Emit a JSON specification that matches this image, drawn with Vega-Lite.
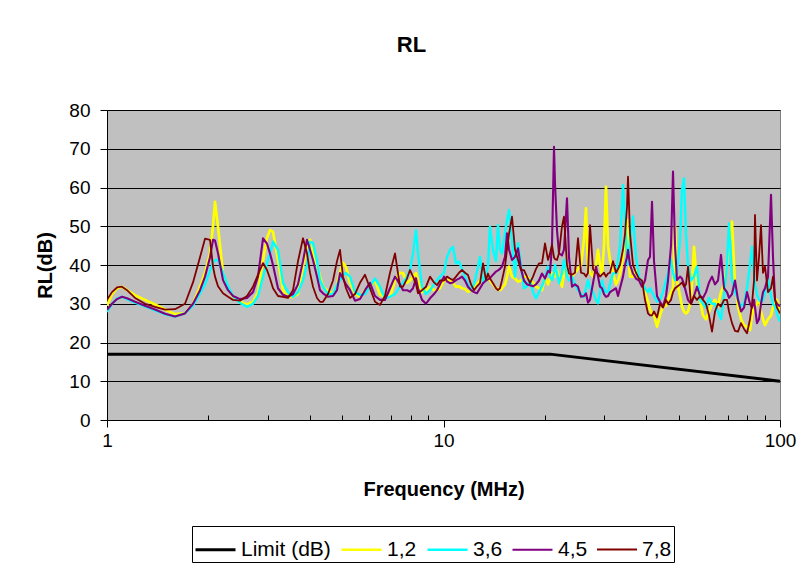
{
"$schema":"https://vega.github.io/schema/vega-lite/v6.json",
"width":673,"height":310,
"autosize":{"type":"none"},
"padding":{"left":107,"top":110,"right":29,"bottom":149},
"background":"white",
"title":{"text":"RL","font":"Liberation Sans","fontSize":22,"fontWeight":"bold","color":"black","anchor":"middle","frame":"group","offset":44,"dx":-32},
"data":{"values":[
{"f":1,"Limit (dB)":17,"1,2":29.5,"3,6":27.9,"4,5":28.4,"7,8":31},
{"f":1.0348,"1,2":32.5,"3,6":30,"4,5":30,"7,8":33},
{"f":1.0708,"1,2":34,"3,6":31.3,"4,5":31.2,"7,8":34.2},
{"f":1.1081,"1,2":34.4,"3,6":31.8,"4,5":31.8,"7,8":34.4},
{"f":1.1467,"1,2":33.5,"3,6":31.2,"4,5":31.4,"7,8":33.5},
{"f":1.2112,"1,2":32.2,"3,6":30.3,"4,5":30.5,"7,8":31.5},
{"f":1.297,"1,2":31,"3,6":29.3,"4,5":29.5,"7,8":30},
{"f":1.3888,"1,2":29.8,"3,6":28.3,"4,5":28.5,"7,8":29.2},
{"f":1.4872,"1,2":28.5,"3,6":27.3,"4,5":27.4,"7,8":28.5},
{"f":1.5925,"1,2":27.3,"3,6":26.7,"4,5":26.7,"7,8":28.6},
{"f":1.7054,"1,2":27.5,"3,6":27.5,"4,5":27.5,"7,8":30},
{"f":1.8013,"1,2":30,"3,6":29.5,"4,5":30,"7,8":35.5},
{"f":1.8897,"1,2":34.4,"3,6":32.7,"4,5":33.5,"7,8":42},
{"f":1.9555,"1,2":38,"3,6":35,"4,5":37,"7,8":46.8},
{"f":2.0235,"1,2":43,"3,6":38.5,"4,5":42,"7,8":46.5},
{"f":2.0655,"1,2":50,"3,6":40.5,"4,5":46.5,"7,8":39.6},
{"f":2.094,"1,2":56.3,"3,6":41.3,"4,5":46.3,"7,8":37},
{"f":2.1374,"1,2":49.9,"3,6":41.3,"4,5":43,"7,8":34.5},
{"f":2.2118,"1,2":37.9,"3,6":38,"4,5":36.1,"7,8":32.7},
{"f":2.2887,"1,2":34,"3,6":34.5,"4,5":33.5,"7,8":31.8},
{"f":2.3684,"1,2":31.8,"3,6":32,"4,5":32,"7,8":31},
{"f":2.4846,"1,2":30.5,"3,6":30.2,"4,5":31.2,"7,8":30.8},
{"f":2.6064,"1,2":29.8,"3,6":29.2,"4,5":31.5,"7,8":32},
{"f":2.7157,"1,2":30.5,"3,6":30,"4,5":33,"7,8":34.4},
{"f":2.8102,"1,2":33,"3,6":32,"4,5":37,"7,8":37.5},
{"f":2.908,"1,2":41.3,"3,6":37,"4,5":46.9,"7,8":40.5},
{"f":2.9887,"1,2":47,"3,6":40.5,"4,5":45.5,"7,8":38.7},
{"f":3.0507,"1,2":49,"3,6":43,"4,5":43,"7,8":36.5},
{"f":3.114,"1,2":48.6,"3,6":46,"4,5":40,"7,8":34},
{"f":3.2224,"1,2":41.3,"3,6":43.9,"4,5":34,"7,8":32},
{"f":3.3345,"1,2":33.5,"3,6":35.4,"4,5":32.3,"7,8":31.8},
{"f":3.4506,"1,2":31.8,"3,6":33,"4,5":31.8,"7,8":31.5},
{"f":3.5707,"1,2":31.8,"3,6":31.8,"4,5":32.5,"7,8":33.5},
{"f":3.695,"1,2":32.5,"3,6":33,"4,5":35,"7,8":41},
{"f":3.8236,"1,2":39.6,"3,6":36.1,"4,5":41,"7,8":46.9},
{"f":3.9297,"1,2":45,"3,6":40,"4,5":46.5,"7,8":43},
{"f":4.0112,"1,2":46.5,"3,6":46,"4,5":44,"7,8":38},
{"f":4.0944,"1,2":43,"3,6":45.7,"4,5":41.3,"7,8":34.4},
{"f":4.208,"1,2":40,"3,6":41,"4,5":37,"7,8":31.5},
{"f":4.2953,"1,2":37,"3,6":36.1,"4,5":33.5,"7,8":30.5},
{"f":4.3844,"1,2":34.4,"3,6":34.4,"4,5":32.7,"7,8":30.5},
{"f":4.537,"1,2":33.2,"3,6":32.5,"4,5":31.8,"7,8":32.5},
{"f":4.6949,"1,2":32.7,"3,6":32.5,"4,5":32,"7,8":36},
{"f":4.8252,"1,2":35,"3,6":35,"4,5":33.5,"7,8":41},
{"f":4.9253,"1,2":38,"3,6":36.1,"4,5":37.9,"7,8":43.9},
{"f":5.0274,"1,2":40.6,"3,6":37.5,"4,5":36.5,"7,8":37},
{"f":5.1317,"1,2":39.5,"3,6":37.9,"4,5":35,"7,8":34},
{"f":5.2741,"1,2":35.4,"3,6":37,"4,5":33.5,"7,8":31.5},
{"f":5.4577,"1,2":32.5,"3,6":33,"4,5":30.8,"7,8":32.5},
{"f":5.6477,"1,2":31.8,"3,6":32.3,"4,5":31.2,"7,8":35.4},
{"f":5.8442,"1,2":33.5,"3,6":32.5,"4,5":33.5,"7,8":37.5},
{"f":6.0476,"1,2":34.4,"3,6":34.5,"4,5":35.4,"7,8":34},
{"f":6.2581,"1,2":36.1,"3,6":36.5,"4,5":32,"7,8":30.5},
{"f":6.4759,"1,2":32.3,"3,6":34.4,"4,5":31,"7,8":29.7},
{"f":6.7013,"1,2":31.8,"3,6":31.4,"4,5":31,"7,8":32},
{"f":6.9345,"1,2":31.8,"3,6":31.8,"4,5":34,"7,8":38},
{"f":7.1759,"1,2":36,"3,6":32.5,"4,5":37,"7,8":43},
{"f":7.4256,"1,2":38,"3,6":34.5,"4,5":35,"7,8":34.4},
{"f":7.5797,"1,2":37.9,"3,6":35.4,"4,5":33.5,"7,8":34.4},
{"f":7.79,"1,2":35.4,"3,6":37,"4,5":33.5,"7,8":36.5},
{"f":7.9516,"1,2":36,"3,6":38.7,"4,5":33.1,"7,8":38.7},
{"f":8.1166,"1,2":37,"3,6":43,"4,5":34,"7,8":37},
{"f":8.285,"1,2":37.9,"3,6":49,"4,5":36.6,"7,8":35},
{"f":8.3991,"1,2":36,"3,6":43,"4,5":34,"7,8":32.7},
{"f":8.6322,"1,2":33,"3,6":34.4,"4,5":31,"7,8":33.5},
{"f":8.8718,"1,2":33.5,"3,6":32.5,"4,5":30,"7,8":34.4},
{"f":9.1179,"1,2":34.4,"3,6":33.5,"4,5":31.4,"7,8":37},
{"f":9.3709,"1,2":33.5,"3,6":35,"4,5":32.5,"7,8":35.5},
{"f":9.5653,"1,2":33.5,"3,6":36.1,"4,5":33.5,"7,8":34.8},
{"f":9.7637,"1,2":34,"3,6":37,"4,5":35,"7,8":36},
{"f":10.034,"1,2":36,"3,6":38,"4,5":37,"7,8":36},
{"f":10.24,"1,2":36.1,"3,6":42,"4,5":35.8,"7,8":37},
{"f":10.455,"1,2":36,"3,6":43.9,"4,5":35.3,"7,8":36.5},
{"f":10.672,"1,2":35.5,"3,6":44.7,"4,5":35.5,"7,8":36.1},
{"f":10.893,"1,2":34.4,"3,6":40.4,"4,5":36.1,"7,8":37},
{"f":11.119,"1,2":34.5,"3,6":40.9,"4,5":36.5,"7,8":38},
{"f":11.35,"1,2":34,"3,6":39,"4,5":37,"7,8":38.7},
{"f":11.585,"1,2":33.8,"3,6":37,"4,5":36,"7,8":38},
{"f":11.825,"1,2":33.1,"3,6":35,"4,5":34.4,"7,8":37.4},
{"f":12.071,"1,2":33.5,"3,6":33.5,"4,5":33.5,"7,8":35},
{"f":12.321,"1,2":34.5,"3,6":35,"4,5":33,"7,8":33.5},
{"f":12.576,"1,2":35,"3,6":38.3,"4,5":32.7,"7,8":34.5},
{"f":12.837,"1,2":36,"3,6":42.1,"4,5":34,"7,8":35.3},
{"f":13.103,"1,2":37,"3,6":35.4,"4,5":35.3,"7,8":40.4},
{"f":13.375,"1,2":36.5,"3,6":38,"4,5":36,"7,8":36.1},
{"f":13.559,"1,2":36.3,"3,6":39.6,"4,5":36.3,"7,8":37.8},
{"f":13.746,"1,2":36.1,"3,6":49.9,"4,5":36.6,"7,8":36.5},
{"f":14.031,"1,2":35,"3,6":43.9,"4,5":37.5,"7,8":35.3},
{"f":14.322,"1,2":34,"3,6":41,"4,5":38.3,"7,8":34},
{"f":14.519,"1,2":33.8,"3,6":50.3,"4,5":38.6,"7,8":33.5},
{"f":14.72,"1,2":33.5,"3,6":44,"4,5":39,"7,8":34},
{"f":14.923,"1,2":34,"3,6":43,"4,5":39.6,"7,8":36.1},
{"f":15.232,"1,2":35,"3,6":48.2,"4,5":42.1,"7,8":39.6},
{"f":15.442,"1,2":37,"3,6":51.6,"4,5":48.2,"7,8":44},
{"f":15.655,"1,2":39.6,"3,6":54.2,"4,5":44,"7,8":48},
{"f":15.98,"1,2":37,"3,6":46.5,"4,5":41.3,"7,8":52.5},
{"f":16.311,"1,2":36.5,"3,6":37,"4,5":42.1,"7,8":44},
{"f":16.649,"1,2":35.7,"3,6":45.6,"4,5":44.3,"7,8":41.3},
{"f":16.995,"1,2":36,"3,6":40,"4,5":39,"7,8":38.7},
{"f":17.347,"1,2":37,"3,6":34,"4,5":36,"7,8":38.7},
{"f":17.707,"1,2":37,"3,6":34.5,"4,5":35,"7,8":37},
{"f":18.074,"1,2":36,"3,6":36.1,"4,5":34.8,"7,8":35.3},
{"f":18.449,"1,2":35.5,"3,6":33,"4,5":34.5,"7,8":37},
{"f":18.832,"1,2":34.4,"3,6":31.4,"4,5":35,"7,8":39},
{"f":19.222,"1,2":34,"3,6":33,"4,5":36,"7,8":40.4},
{"f":19.621,"1,2":33.5,"3,6":34.5,"4,5":37.8,"7,8":40.4},
{"f":20.028,"1,2":37,"3,6":36.6,"4,5":36.5,"7,8":45.6},
{"f":20.443,"1,2":35,"3,6":39.6,"4,5":38.5,"7,8":41.3},
{"f":20.725,"Limit (dB)":17,"1,2":36.5,"3,6":37,"4,5":38,"7,8":43},
{"f":21.01,"1,2":38,"3,6":36.1,"4,5":45,"7,8":45.2},
{"f":21.3,"1,2":37.5,"3,6":38,"4,5":70.5,"7,8":42},
{"f":21.446,"1,2":37,"3,6":40,"4,5":61,"7,8":41.5},
{"f":21.742,"1,2":38.7,"3,6":38,"4,5":49,"7,8":41.3},
{"f":22.041,"1,2":37,"3,6":35.3,"4,5":43,"7,8":43},
{"f":22.498,"1,2":34.4,"3,6":38,"4,5":42.5,"7,8":50},
{"f":22.808,"1,2":38,"3,6":41.3,"4,5":44,"7,8":52.5},
{"f":23.281,"1,2":40.4,"3,6":37,"4,5":57.2,"7,8":40},
{"f":23.602,"1,2":38,"3,6":36,"4,5":42.1,"7,8":37.8},
{"f":24.091,"1,2":37,"3,6":37,"4,5":34.4,"7,8":37.5},
{"f":24.591,"1,2":38,"3,6":35,"4,5":35,"7,8":38},
{"f":25.101,"1,2":39,"3,6":33.5,"4,5":34.4,"7,8":46.9},
{"f":25.622,"1,2":40,"3,6":32.5,"4,5":31.8,"7,8":38},
{"f":26.153,"1,2":46.5,"3,6":31.8,"4,5":32,"7,8":37.8},
{"f":26.514,"1,2":54.6,"3,6":34,"4,5":32.7,"7,8":37},
{"f":26.879,"1,2":39.6,"3,6":36.1,"4,5":30.3,"7,8":38},
{"f":27.25,"1,2":38,"3,6":34,"4,5":31,"7,8":50.3},
{"f":27.815,"1,2":37,"3,6":33,"4,5":35.3,"7,8":39},
{"f":28.392,"1,2":40,"3,6":31,"4,5":39.6,"7,8":38},
{"f":28.783,"1,2":43.9,"3,6":30.1,"4,5":37,"7,8":37.8},
{"f":29.18,"1,2":40,"3,6":33,"4,5":34.4,"7,8":37},
{"f":29.582,"1,2":37.5,"3,6":36,"4,5":34,"7,8":37.5},
{"f":29.99,"1,2":45,"3,6":34,"4,5":32.5,"7,8":38},
{"f":30.403,"1,2":60.2,"3,6":33,"4,5":31.8,"7,8":37},
{"f":30.822,"1,2":45,"3,6":33,"4,5":32,"7,8":37.8},
{"f":31.247,"1,2":41.3,"3,6":35,"4,5":33,"7,8":38},
{"f":31.895,"1,2":38,"3,6":37.8,"4,5":33.5,"7,8":41},
{"f":32.557,"1,2":35,"3,6":38,"4,5":34,"7,8":38},
{"f":33.005,"1,2":36,"3,6":41.3,"4,5":32,"7,8":39},
{"f":33.46,"1,2":37.8,"3,6":45,"4,5":34,"7,8":40},
{"f":34.154,"1,2":42,"3,6":60.6,"4,5":37,"7,8":44},
{"f":34.625,"1,2":46.5,"3,6":51.6,"4,5":40,"7,8":48},
{"f":35.102,"1,2":51.6,"3,6":42,"4,5":42,"7,8":55},
{"f":35.343,"1,2":45,"3,6":40,"4,5":43.9,"7,8":62.8},
{"f":35.83,"1,2":37,"3,6":46,"4,5":40,"7,8":48.2},
{"f":36.573,"1,2":37,"3,6":52.5,"4,5":37.8,"7,8":40},
{"f":37.332,"1,2":38.7,"3,6":42.1,"4,5":36.5,"7,8":38},
{"f":38.106,"1,2":36,"3,6":37,"4,5":36,"7,8":36.5},
{"f":38.896,"1,2":35,"3,6":35.3,"4,5":34.4,"7,8":36},
{"f":39.703,"1,2":33,"3,6":34,"4,5":36,"7,8":31},
{"f":40.527,"1,2":30.5,"3,6":33,"4,5":41.3,"7,8":27.5},
{"f":41.085,"1,2":28.5,"3,6":34,"4,5":42.1,"7,8":27},
{"f":41.651,"1,2":27.5,"3,6":33,"4,5":56.3,"7,8":27},
{"f":42.225,"1,2":27,"3,6":32,"4,5":41,"7,8":28},
{"f":43.101,"1,2":24.1,"3,6":30.5,"4,5":32,"7,8":26.5},
{"f":43.995,"1,2":27,"3,6":31,"4,5":30.5,"7,8":30},
{"f":44.908,"1,2":29.3,"3,6":33,"4,5":29.3,"7,8":29},
{"f":45.839,"1,2":29.5,"3,6":36,"4,5":32,"7,8":31},
{"f":46.471,"1,2":31,"3,6":37.8,"4,5":36,"7,8":30},
{"f":47.435,"1,2":33,"3,6":41.5,"4,5":45,"7,8":31},
{"f":48.088,"1,2":34,"3,6":38,"4,5":64.1,"7,8":33},
{"f":48.751,"1,2":49.9,"3,6":36.1,"4,5":45,"7,8":34},
{"f":49.423,"1,2":36,"3,6":38,"4,5":36.1,"7,8":34.4},
{"f":50.448,"1,2":32,"3,6":46.5,"4,5":37,"7,8":35},
{"f":51.143,"1,2":29.3,"3,6":59.4,"4,5":36.5,"7,8":35.5},
{"f":51.847,"1,2":28,"3,6":62.4,"4,5":35,"7,8":34.4},
{"f":52.562,"1,2":27.5,"3,6":48,"4,5":33,"7,8":35},
{"f":53.286,"1,2":28,"3,6":40,"4,5":31,"7,8":39.6},
{"f":54.391,"1,2":31,"3,6":36,"4,5":30,"7,8":30},
{"f":55.519,"1,2":44.7,"3,6":37,"4,5":32,"7,8":32},
{"f":56.671,"1,2":35,"3,6":39.6,"4,5":34.4,"7,8":31},
{"f":57.846,"1,2":31,"3,6":31,"4,5":32,"7,8":32},
{"f":59.045,"1,2":27,"3,6":30,"4,5":31.5,"7,8":31},
{"f":60.27,"1,2":26,"3,6":29,"4,5":33,"7,8":30},
{"f":61.52,"1,2":28,"3,6":31.5,"4,5":35.5,"7,8":27},
{"f":62.795,"1,2":30,"3,6":30,"4,5":37,"7,8":22.8},
{"f":64.098,"1,2":31,"3,6":30,"4,5":35,"7,8":28},
{"f":65.428,"1,2":29.5,"3,6":28,"4,5":36,"7,8":30},
{"f":66.785,"1,2":33,"3,6":26,"4,5":42.6,"7,8":29.3},
{"f":68.17,"1,2":35,"3,6":32,"4,5":34,"7,8":31},
{"f":69.584,"1,2":40,"3,6":40,"4,5":33,"7,8":31},
{"f":70.543,"1,2":45,"3,6":50.7,"4,5":31.5,"7,8":28},
{"f":72.006,"1,2":51.2,"3,6":36.1,"4,5":32.5,"7,8":25},
{"f":73.499,"1,2":35,"3,6":33,"4,5":36,"7,8":23},
{"f":75.024,"1,2":29.3,"3,6":31,"4,5":31,"7,8":22.8},
{"f":76.58,"1,2":26,"3,6":29.3,"4,5":28,"7,8":25},
{"f":78.168,"1,2":24.5,"3,6":30,"4,5":29,"7,8":23.5},
{"f":79.789,"1,2":24,"3,6":34,"4,5":33,"7,8":22.4},
{"f":81.444,"1,2":23.2,"3,6":40,"4,5":30,"7,8":26},
{"f":82.566,"1,2":27,"3,6":44.7,"4,5":29,"7,8":30},
{"f":83.704,"1,2":29,"3,6":37.8,"4,5":31,"7,8":36},
{"f":84.279,"1,2":29.5,"3,6":35,"4,5":29,"7,8":52.9},
{"f":85.44,"1,2":30,"3,6":32.3,"4,5":25,"7,8":36},
{"f":86.618,"1,2":31,"3,6":31,"4,5":26,"7,8":42},
{"f":87.811,"1,2":28,"3,6":30.5,"4,5":30,"7,8":50.3},
{"f":89.021,"1,2":26,"3,6":31,"4,5":33,"7,8":38},
{"f":90.248,"1,2":24.5,"3,6":33,"4,5":34,"7,8":39.6},
{"f":92.12,"1,2":26,"3,6":36.5,"4,5":37,"7,8":33},
{"f":94.031,"1,2":27,"3,6":32,"4,5":58.1,"7,8":34},
{"f":95.327,"1,2":29,"3,6":30,"4,5":42,"7,8":37},
{"f":96.64,"1,2":30.5,"3,6":29.3,"4,5":31,"7,8":31},
{"f":97.972,"1,2":31,"3,6":27.5,"4,5":30,"7,8":29},
{"f":100,"Limit (dB)":10,"1,2":28,"3,6":25.4,"4,5":29.3,"7,8":27.5}
]},
"transform":[
{"fold":["Limit (dB)","1,2","3,6","4,5","7,8"],"as":["s","v"]},
{"filter":"isValid(datum.v)"}
],
"mark":{"type":"line","strokeJoin":"round","clip":true},
"encoding":{
"x":{"field":"f","type":"quantitative",
 "scale":{"type":"log","domain":[1,100],"nice":false},
 "axis":{"values":[1,2,3,4,5,6,7,8,9,10,20,30,40,50,60,70,80,90,100],
  "labelExpr":"(datum.value==1||datum.value==10||datum.value==100)?format(datum.value,'d'):''",
  "grid":false,"labelFlush":false,"labelOverlap":false,
  "tickSize":{"condition":{"test":"datum.value==1||datum.value==10||datum.value==100","value":7},"value":-5},
  "labelPadding":4,
  "title":"Frequency (MHz)","titlePadding":29}},
"y":{"field":"v","type":"quantitative",
 "scale":{"domain":[0,80],"nice":false},
 "axis":{"values":[0,10,20,30,40,50,60,70,80],"grid":true,"tickSize":7,"labelPadding":10,
  "title":"RL(dB)","titlePadding":13}},
"color":{"field":"s","type":"nominal",
 "scale":{"domain":["Limit (dB)","1,2","3,6","4,5","7,8"],"range":["#000000","#FFFF00","#00FFFF","#800080","#800000"]},
 "legend":{"title":null}},
"strokeWidth":{"field":"s","type":"nominal",
 "scale":{"domain":["Limit (dB)","1,2","3,6","4,5","7,8"],"range":[3,1.8,1.8,1.8,1.8]},
 "legend":{"title":null}}
},
"config":{
"view":{"fill":"#C0C0C0","stroke":"#808080","strokeWidth":1},
"axis":{"domainColor":"#000000","domainWidth":1,"tickColor":"#000000","tickWidth":1,
 "gridColor":"#000000","gridWidth":1,
 "labelFont":"Liberation Sans","labelFontSize":19,"labelColor":"#000000",
 "titleFont":"Liberation Sans","titleFontSize":20,"titleFontWeight":"bold","titleColor":"#000000"},
"legend":{"orient":"none","legendX":85,"legendY":416,"direction":"horizontal",
 "symbolType":"stroke","symbolSize":1600,"symbolOpacity":1,
 "labelFont":"Liberation Sans","labelFontSize":21,"labelColor":"#000000","labelOffset":4,
 "columnPadding":5,"padding":2,"strokeColor":"#000000","fillColor":"#FFFFFF"}
}
}
